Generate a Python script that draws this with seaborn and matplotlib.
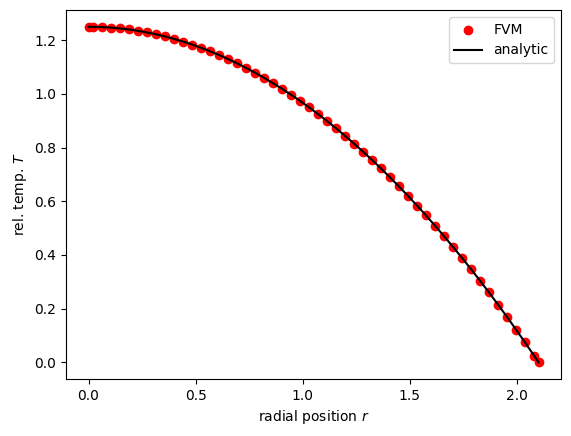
import matplotlib
matplotlib.use('Agg')
import matplotlib.pyplot as plt
import seaborn as sns

# radial positions: axis, cell centres, outer wall
r = [0.0, 0.021, 0.063, 0.105, 0.147, 0.189, 0.231, 0.273, 0.315, 0.357,
     0.399, 0.441, 0.483, 0.525, 0.567, 0.609, 0.651, 0.693, 0.735, 0.777,
     0.819, 0.861, 0.903, 0.945, 0.987, 1.029, 1.071, 1.113, 1.155, 1.197,
     1.239, 1.281, 1.323, 1.365, 1.407, 1.449, 1.491, 1.533, 1.575, 1.617,
     1.659, 1.701, 1.743, 1.785, 1.827, 1.869, 1.911, 1.953, 1.995, 2.037,
     2.079, 2.1]

T_fvm = [1.2500, 1.2499, 1.2489, 1.2469, 1.2439, 1.2399, 1.2349, 1.2289,
         1.2219, 1.2139, 1.2049, 1.1949, 1.1839, 1.1719, 1.1589, 1.1449,
         1.1299, 1.1139, 1.0969, 1.0789, 1.0599, 1.0399, 1.0189, 0.9969,
         0.9739, 0.9499, 0.9249, 0.8989, 0.8719, 0.8439, 0.8149, 0.7849,
         0.7539, 0.7219, 0.6889, 0.6549, 0.6199, 0.5839, 0.5469, 0.5089,
         0.4699, 0.4299, 0.3889, 0.3469, 0.3039, 0.2599, 0.2149, 0.1689,
         0.1219, 0.0739, 0.0249, 0.0000]

T_analytic = list(T_fvm)

fig, ax = plt.subplots(figsize=(5.71, 4.36), dpi=100)
fig.subplots_adjust(left=66/571, right=561/571, bottom=57/436, top=426/436)

sns.scatterplot(x=r, y=T_fvm, ax=ax, color='red', s=36, linewidth=1,
                edgecolor='red', label='FVM', zorder=2)
sns.lineplot(x=r, y=T_analytic, ax=ax, color='black', linewidth=1.5,
             sort=False, label='analytic', zorder=3)

ax.set_xlabel('radial position $r$')
ax.set_ylabel('rel. temp. $T$')
ax.set_xticks([0.0, 0.5, 1.0, 1.5, 2.0])
ax.legend(loc='upper right')

fig.savefig('out.png', dpi=100)
